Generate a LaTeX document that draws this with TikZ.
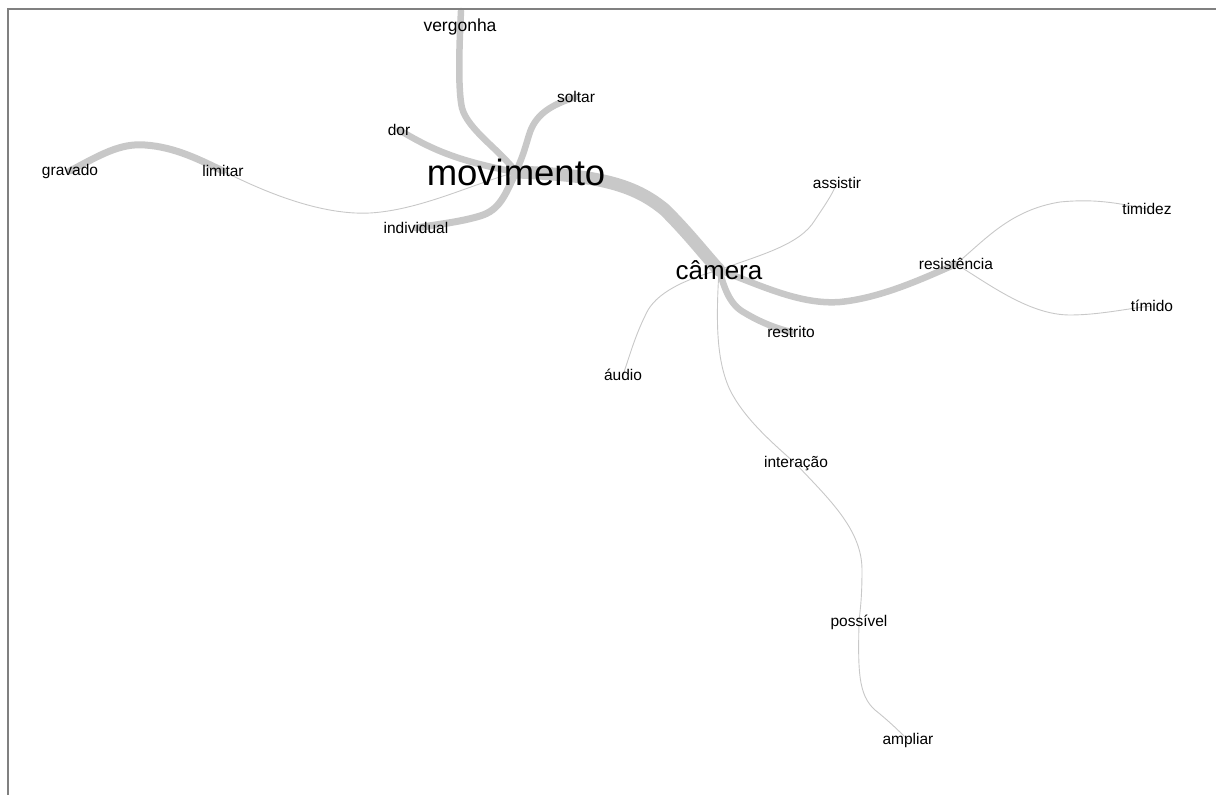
\documentclass[tikz,border=0pt]{standalone}
\usepackage{fontspec}
\setmainfont{Liberation Sans}
\usepackage{xcolor}
\usepackage{tikz}
\usetikzlibrary{backgrounds}

\definecolor{linkgray}{RGB}{200,200,200}
\definecolor{framegray}{RGB}{128,128,128}

\begin{document}
\begin{tikzpicture}[
    x=1pt, y=-1pt,
    term/.style={inner sep=0pt, text=black, font=\fontsize{15.5}{18}\selectfont},
    link/.style={draw=linkgray, line cap=round},
    faint/.style={link, line width=0.9pt},
    heavy/.style={link, line width=6.5pt},
    frame/.style={draw=framegray, line width=2pt}
]
\useasboundingbox (0,0) rectangle (1216,795);
\draw[frame] (8,795) -- (8,9) -- (1216,9);

% words
\node[term, font=\fontsize{36.5}{40}\selectfont] (movimento) at (516,172) {movimento};
\node[term, font=\fontsize{26}{30}\selectfont] (camera) at (719,270) {câmera};
\node[term, font=\fontsize{17.5}{20}\selectfont] (vergonha) at (460,27) {vergonha};
\node[term] (soltar) at (576,97) {soltar};
\node[term] (dor) at (399,130) {dor};
\node[term] (gravado) at (70,171) {gravado};
\node[term] (limitar) at (223,171) {limitar};
\node[term] (individual) at (416,228) {individual};
\node[term] (assistir) at (837,183) {assistir};
\node[term] (resistencia) at (956,264) {resistência};
\node[term] (timidez) at (1147,209) {timidez};
\node[term] (timido) at (1152,306) {tímido};
\node[term] (restrito) at (791,332) {restrito};
\node[term] (audio) at (623,375) {áudio};
\node[term] (interacao) at (796,464) {interação};
\node[term] (possivel) at (859,622) {possível};
\node[term] (ampliar) at (908,740) {ampliar};
\coordinate (vtop) at (461,11);

% links
\begin{scope}[on background layer]
\draw[heavy] (vtop) .. controls (459,50) and (458,90) .. (462,108)
    .. controls (468,130) and (500,150) .. (movimento.center);
\draw[heavy] (soltar.center) .. controls (550,105) and (535,115) .. (529,135)
    .. controls (523,155) .. (movimento.center);
\draw[heavy, line width=7pt] (movimento.center) .. controls (505,195) and (500,210) .. (480,216)
    .. controls (460,222) and (440,224) .. (individual.center);
\draw[heavy] (dor.center) .. controls (425,145) and (450,160) .. (movimento.center);
\draw[heavy, line width=7pt] (gravado.center) .. controls (100,155) and (120,143) .. (145,145)
    .. controls (175,147) and (200,160) .. (limitar.center);
\draw[faint] (limitar.center) .. controls (280,200) and (330,215) .. (370,213)
    .. controls (420,210) and (470,185) .. (movimento.center);
\draw[link, line width=13pt] (movimento.center) .. controls (600,175) and (635,185) .. (665,210)
    .. controls (690,235) and (705,255) .. (camera.center);
\draw[heavy] (camera.center) .. controls (725,290) and (730,305) .. (745,313)
    .. controls (760,322) and (775,328) .. (restrito.center);
\draw[heavy] (camera.center) .. controls (760,285) and (800,305) .. (840,302)
    .. controls (880,298) and (920,280) .. (resistencia.center);
\draw[faint] (resistencia.center) .. controls (985,240) and (1010,210) .. (1060,202)
    .. controls (1100,198) and (1125,205) .. (timidez.center);
\draw[faint] (resistencia.center) .. controls (990,285) and (1030,315) .. (1070,315)
    .. controls (1100,315) and (1130,308) .. (timido.center);
\draw[faint] (camera.center) .. controls (760,255) and (800,245) .. (815,220)
    .. controls (825,205) and (832,195) .. (assistir.center);
\draw[faint] (camera.center) .. controls (690,278) and (660,290) .. (648,310)
    .. controls (635,335) and (630,355) .. (audio.center);
\draw[faint] (camera.center) .. controls (716,320) and (716,360) .. (730,390)
    .. controls (745,420) and (775,445) .. (interacao.center);
\draw[faint] (interacao.center) .. controls (830,500) and (862,530) .. (862,570)
    .. controls (862,600) and (860,610) .. (possivel.center);
\draw[faint] (possivel.center) .. controls (858,670) and (858,695) .. (875,710)
    .. controls (890,722) and (900,732) .. (ampliar.center);
\end{scope}
\end{tikzpicture}
\end{document}
